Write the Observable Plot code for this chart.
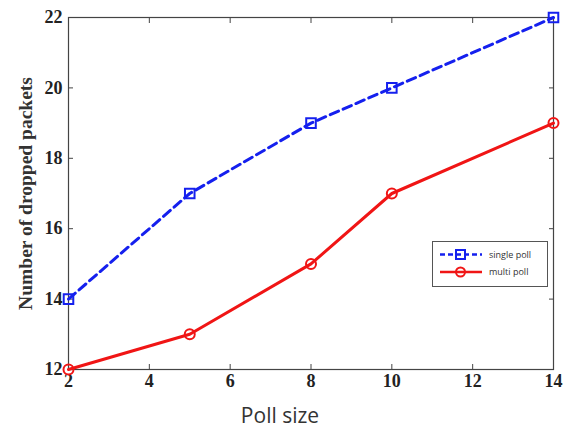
<!DOCTYPE html>
<html>
<head>
<meta charset="utf-8">
<script src="https://cdn.jsdelivr.net/npm/d3@7"></script>
<script src="https://cdn.jsdelivr.net/npm/@observablehq/plot@0.6"></script>
<style>
  html, body { margin: 0; padding: 0; background: #fff; }
  #wrap { position: relative; width: 565px; height: 430px; }
  #legend {
    position: absolute; left: 432px; top: 241px; width: 116px; height: 46px;
    border: 1px solid #555; background: #fff; box-sizing: border-box;
    font-family: "Open Sans", sans-serif; font-size: 9px; color: #333;
  }
  .row { position: absolute; left: 6px; height: 14px; display: flex; align-items: center; }
  .row span { margin-left: 6px; }
</style>
</head>
<body>
<div id="wrap"></div>
<script>
const pollSize = [2, 5, 8, 10, 14];
const singlePoll = [14, 17, 19, 20, 22];
const multiPoll = [12, 13, 15, 17, 19];
const xTicks = [2, 4, 6, 8, 10, 12, 14];
const yTicks = [12, 14, 16, 18, 20, 22];
const seriesNames = ["single poll", "multi poll"];
const blue = "#1520ee";
const red = "#f01515";

const single = pollSize.map((x, i) => ({x, y: singlePoll[i]}));
const multi = pollSize.map((x, i) => ({x, y: multiPoll[i]}));

const serif = "'Liberation Serif', 'DejaVu Serif', serif";

const chart = Plot.plot({
  width: 565,
  height: 430,
  marginLeft: 68,
  marginRight: 12,
  marginTop: 17,
  marginBottom: 61,
  style: {fontFamily: serif, fontSize: "18px", fontWeight: "bold", color: "#222", background: "#fff"},
  x: {domain: [2, 14]},
  y: {domain: [12, 22]},
  marks: [
    Plot.frame({stroke: "#444", strokeWidth: 1.2}),
    Plot.axisX({ticks: xTicks, tickSize: -5, tickPadding: 10, label: null, stroke: "#444", fill: "#222"}),
    Plot.axisY({ticks: yTicks, tickSize: -5, tickPadding: 11, label: null, stroke: "#444", fill: "#222"}),
    Plot.axisX({anchor: "top", ticks: xTicks, tickSize: -5, tickFormat: () => "", label: null, stroke: "#444"}),
    Plot.axisY({anchor: "right", ticks: yTicks, tickSize: -5, tickFormat: () => "", label: null, stroke: "#444"}),
    Plot.line(single, {x: "x", y: "y", stroke: blue, strokeWidth: 3, strokeDasharray: "9,5"}),
    Plot.line(multi, {x: "x", y: "y", stroke: red, strokeWidth: 3}),
    Plot.dot(single, {x: "x", y: "y", symbol: "square", r: 5.4, stroke: blue, strokeWidth: 2, fill: "none"}),
    Plot.dot(multi, {x: "x", y: "y", symbol: "circle", r: 5, stroke: red, strokeWidth: 2, fill: "none"}),
    Plot.text(["Number of dropped packets"], {
      frameAnchor: "left", rotate: -90, dx: -43, textAnchor: "middle", lineAnchor: "middle",
      fontFamily: serif, fontSize: 19.5, fontWeight: "bold", fill: "#333"
    }),
    Plot.text(["Poll size"], {
      frameAnchor: "bottom", dy: 47, dx: -31, textAnchor: "middle", lineAnchor: "middle",
      fontFamily: "'Open Sans', sans-serif", fontSize: 21, fontWeight: "normal", fill: "#333"
    })
  ]
});

const wrap = document.getElementById("wrap");
wrap.appendChild(chart);

const legend = document.createElement("div");
legend.id = "legend";
const styles = [
  {color: blue, dash: "5,3", shape: "square"},
  {color: red, dash: null, shape: "circle"}
];
seriesNames.forEach((name, i) => {
  const s = styles[i];
  const row = document.createElement("div");
  row.className = "row";
  row.style.top = (i === 0 ? 5 : 22) + "px";
  const marker = s.shape === "square"
    ? `<rect x="17" y="3" width="9" height="9" fill="none" stroke="${s.color}" stroke-width="2"/>`
    : `<circle cx="21.5" cy="8" r="4.5" fill="none" stroke="${s.color}" stroke-width="2"/>`;
  const ly = s.shape === "square" ? 7.5 : 8;
  row.innerHTML = `<svg width="44" height="14"><line x1="1" x2="43" y1="${ly}" y2="${ly}" stroke="${s.color}" stroke-width="2.5" ${s.dash ? `stroke-dasharray="${s.dash}"` : ""}/>${marker}</svg><span>${name}</span>`;
  legend.appendChild(row);
});
wrap.appendChild(legend);
</script>
</body>
</html>
